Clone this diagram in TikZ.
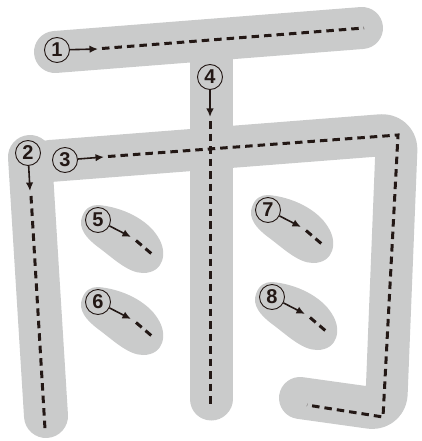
\documentclass[tikz,border=0pt]{standalone}
\usepackage{fontspec}
\setmainfont{Liberation Sans}
\usetikzlibrary{arrows.meta}
\definecolor{gstroke}{RGB}{202,203,203}
\definecolor{ink}{RGB}{35,24,21}
\tikzset{
  graystroke/.style={draw=gstroke, line cap=round, line join=round},
  dashline/.style={draw=ink, line width=3pt, dash pattern=on 7.5pt off 5pt},
  numcirc/.style={circle, draw=ink, line width=0.9pt, fill=gstroke, minimum size=25pt, inner sep=0pt, font=\bfseries\fontsize{20}{20}\selectfont, text=ink},
  dirarrow/.style={draw=ink, line width=1.6pt, -{Latex[length=8.5pt,width=7.5pt]}},
  blob/.style={fill=gstroke}
}
\begin{document}
\begin{tikzpicture}[x=1pt,y=-1pt]
\useasboundingbox (0,0) rectangle (421,441);
% gray strokes
\draw[graystroke, line width=44pt] (30,157) -- (46,416);
\draw[graystroke, line width=42pt] (55,52) -- (362,28);
\draw[graystroke, line width=43pt] (211,60) -- (211,399);
\draw[graystroke, line width=42pt, rounded corners=16pt] (50,161) -- (397,134) -- (386,410) -- (300,398);
\foreach \cx/\cy in {98/220, 98/302, 268/210, 272/297}{
  \fill[blob, shift={(\cx,\cy)}] (0,-15) .. controls (25,-13) and (50,0) .. (60,17)
     .. controls (70,32) and (66,53) .. (45,53)
     .. controls (30,53) and (15,38) .. (0,27)
     .. controls (-12,18) and (-20,8) .. (-16,-3)
     .. controls (-13,-12) and (-7,-15) .. (0,-15) -- cycle;
}
% stroke 1
\node[numcirc] (n1) at (57,50) {1};
\coordinate (a1) at (98,49);
\coordinate (d1s) at (102,48.5);
\coordinate (d1e) at (364,28);
\draw[dirarrow] (n1) -- (a1);
\draw[dashline] (d1s) -- (d1e);
% stroke 2
\node[numcirc] (n2) at (28,153) {2};
\coordinate (a2) at (30,191);
\coordinate (d2s) at (31,196);
\coordinate (d2e) at (45,429);
\draw[dirarrow] (n2) -- (a2);
\draw[dashline] (d2s) -- (d2e);
% stroke 3
\node[numcirc] (n3) at (65,160) {3};
\coordinate (a3) at (104,157);
\coordinate (d3s) at (108,156.5);
\coordinate (d3c1) at (398,135);
\coordinate (d3c2) at (383,417);
\coordinate (d3e) at (307,405);
\draw[dirarrow] (n3) -- (a3);
\draw[dashline] (d3s) -- (d3c1) -- (d3c2) -- (d3e);
% stroke 4
\node[numcirc] (n4) at (210,77) {4};
\coordinate (a4) at (210,117);
\coordinate (d4s) at (210,121);
\coordinate (d4e) at (210,404);
\draw[dirarrow] (n4) -- (a4);
\draw[dashline] (d4s) -- (d4e);
% strokes 5-8
\foreach \k/\cx/\cy in {5/98/220, 6/98/302, 7/268/210, 8/272/297}{
  \node[numcirc] (n\k) at (\cx,\cy) {\k};
  \coordinate (a\k) at (\cx+33,\cy+17);
  \coordinate (s\k) at (\cx+38,\cy+20.5);
  \coordinate (e\k) at (\cx+55,\cy+35);
  \draw[dirarrow] (n\k) -- (a\k);
  \draw[dashline] (s\k) -- (e\k);
}
\end{tikzpicture}
\end{document}
